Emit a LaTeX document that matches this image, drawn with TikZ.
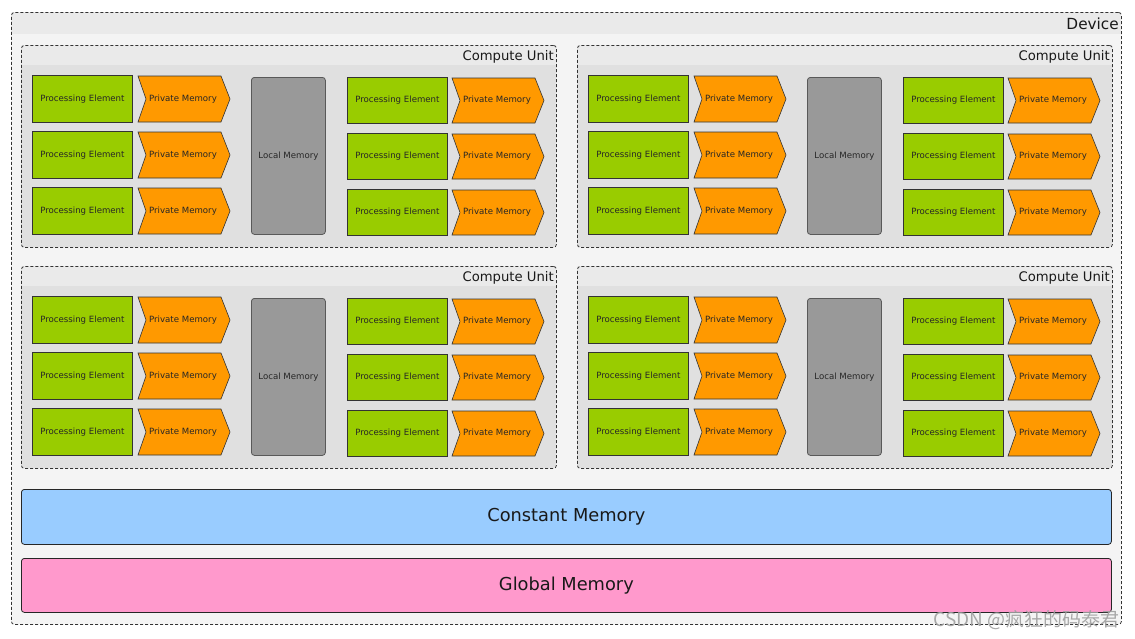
\documentclass[tikz,border=0pt]{standalone}
\usepackage{fontspec}
\setmainfont{DejaVu Sans}
\newfontfamily\cjk{Noto Sans CJK SC}
\definecolor{devhead}{HTML}{EAEAEA}
\definecolor{devbody}{HTML}{F4F4F4}
\definecolor{cuhead}{HTML}{EAEAEA}
\definecolor{cubody}{HTML}{E0E0E0}
\definecolor{pegreen}{HTML}{99CC00}
\definecolor{pmorange}{HTML}{FF9900}
\definecolor{lmgray}{HTML}{999999}
\definecolor{cmblue}{HTML}{99CCFF}
\definecolor{gmpink}{HTML}{FF99CC}
\definecolor{edge}{HTML}{333333}
\tikzset{
  dashbox/.style={draw=edge, line width=0.8pt, dash pattern=on 3pt off 2pt, rounded corners=3pt},
  pebox/.style={draw=edge, fill=pegreen, line width=0.8pt, anchor=north west, minimum width=100pt, minimum height=46pt, inner sep=0pt, font=\fontsize{8.6}{10}\selectfont, text=black!85},
  pmshape/.style={draw=edge, fill=pmorange, line width=0.6pt},
  pmtext/.style={inner sep=0pt, font=\fontsize{8.6}{10}\selectfont, text=black!85},
  lmbox/.style={draw=black!65, fill=lmgray, line width=0.8pt, rounded corners=3pt, anchor=north west, minimum width=74pt, minimum height=157pt, inner sep=0pt, font=\fontsize{8.6}{10}\selectfont, text=black!85},
  membar/.style={draw=black!85, line width=0.8pt, rounded corners=3pt, anchor=north west, minimum width=1090pt, minimum height=55pt, inner sep=0pt, font=\fontsize{17.8}{20}\selectfont, text=black!90},
  title/.style={inner sep=0pt, anchor=base east, text=black!90}
}
\newcommand{\pmem}[5]{% x, y, w, h, name
  \path[pmshape] (#1,#2) -- ++({#3-9},0) -- ++(9,{#4/2}) -- ++(-9,{#4/2}) -- ++({-#3+9},0) -- ++(8,{-#4/2}) -- cycle;
  \node[pmtext] (#5) at ({#1+#3/2-1},{#2+#4/2}) {Private Memory};
}
\newcommand{\computeunit}[3]{% x, y, prefix
  \begin{scope}[shift={(#1,#2)}]
    \fill[cubody, rounded corners=3pt] (0,0) rectangle (535,202);
    \fill[cuhead, rounded corners=3pt] (0,0) rectangle (535,26);
    \fill[cubody] (0,19.5) rectangle (535,27);
    \node[dashbox, anchor=north west, minimum width=535pt, minimum height=202pt, inner sep=0pt] (#3) at (0,0) {};
    \node[title, font=\fontsize{13.2}{15}\selectfont] (#3title) at (533,15) {Compute Unit};
    \foreach \i/\yy in {1/30,2/86,3/142} {
      \node[pebox, minimum height=47pt] (#3peL\i) at (11,\yy) {Processing Element};
      \pmem{117}{\yy+1}{92}{46}{#3pmL\i}
    }
    \node[lmbox] (#3lm) at (230,32) {Local Memory};
    \foreach \i/\yy in {1/32,2/88,3/144} {
      \node[pebox] (#3peR\i) at (326,\yy) {Processing Element};
      \pmem{431}{\yy+1}{92}{45}{#3pmR\i}
    }
  \end{scope}
}
\begin{document}
\begin{tikzpicture}[x=1pt,y=-1pt]
\useasboundingbox (0,0) rectangle (1135,638);
\fill[white] (0,0) rectangle (1135,638);
% device
\fill[devbody, rounded corners=3pt] (11,12) rectangle (1121,624);
\fill[devhead, rounded corners=3pt] (11,12) rectangle (1121,40);
\fill[devbody] (11,34) rectangle (1121,41);
\node[dashbox, anchor=north west, minimum width=1110pt, minimum height=612pt, inner sep=0pt] (device) at (11,12) {};
\node[title, font=\fontsize{15.3}{18}\selectfont] (devtitle) at (1119,29) {Device};
% compute units
\computeunit{21}{45}{cua}
\computeunit{577}{45}{cub}
\computeunit{21}{266}{cuc}
\computeunit{577}{266}{cud}
% memories
\node[membar, fill=cmblue] (constmem) at (21,489) {\raisebox{-1pt}{Constant Memory}};
\node[membar, fill=gmpink, minimum height=54pt] (globalmem) at (21,558) {\raisebox{-1pt}{Global Memory}};
% watermark
\node[inner sep=0pt, anchor=base east, text=gray!75, opacity=0.9, font=\cjk\fontsize{19}{22}\selectfont] (wm) at (1120,626) {CSDN @疯狂的码泰君};
\end{tikzpicture}
\end{document}
